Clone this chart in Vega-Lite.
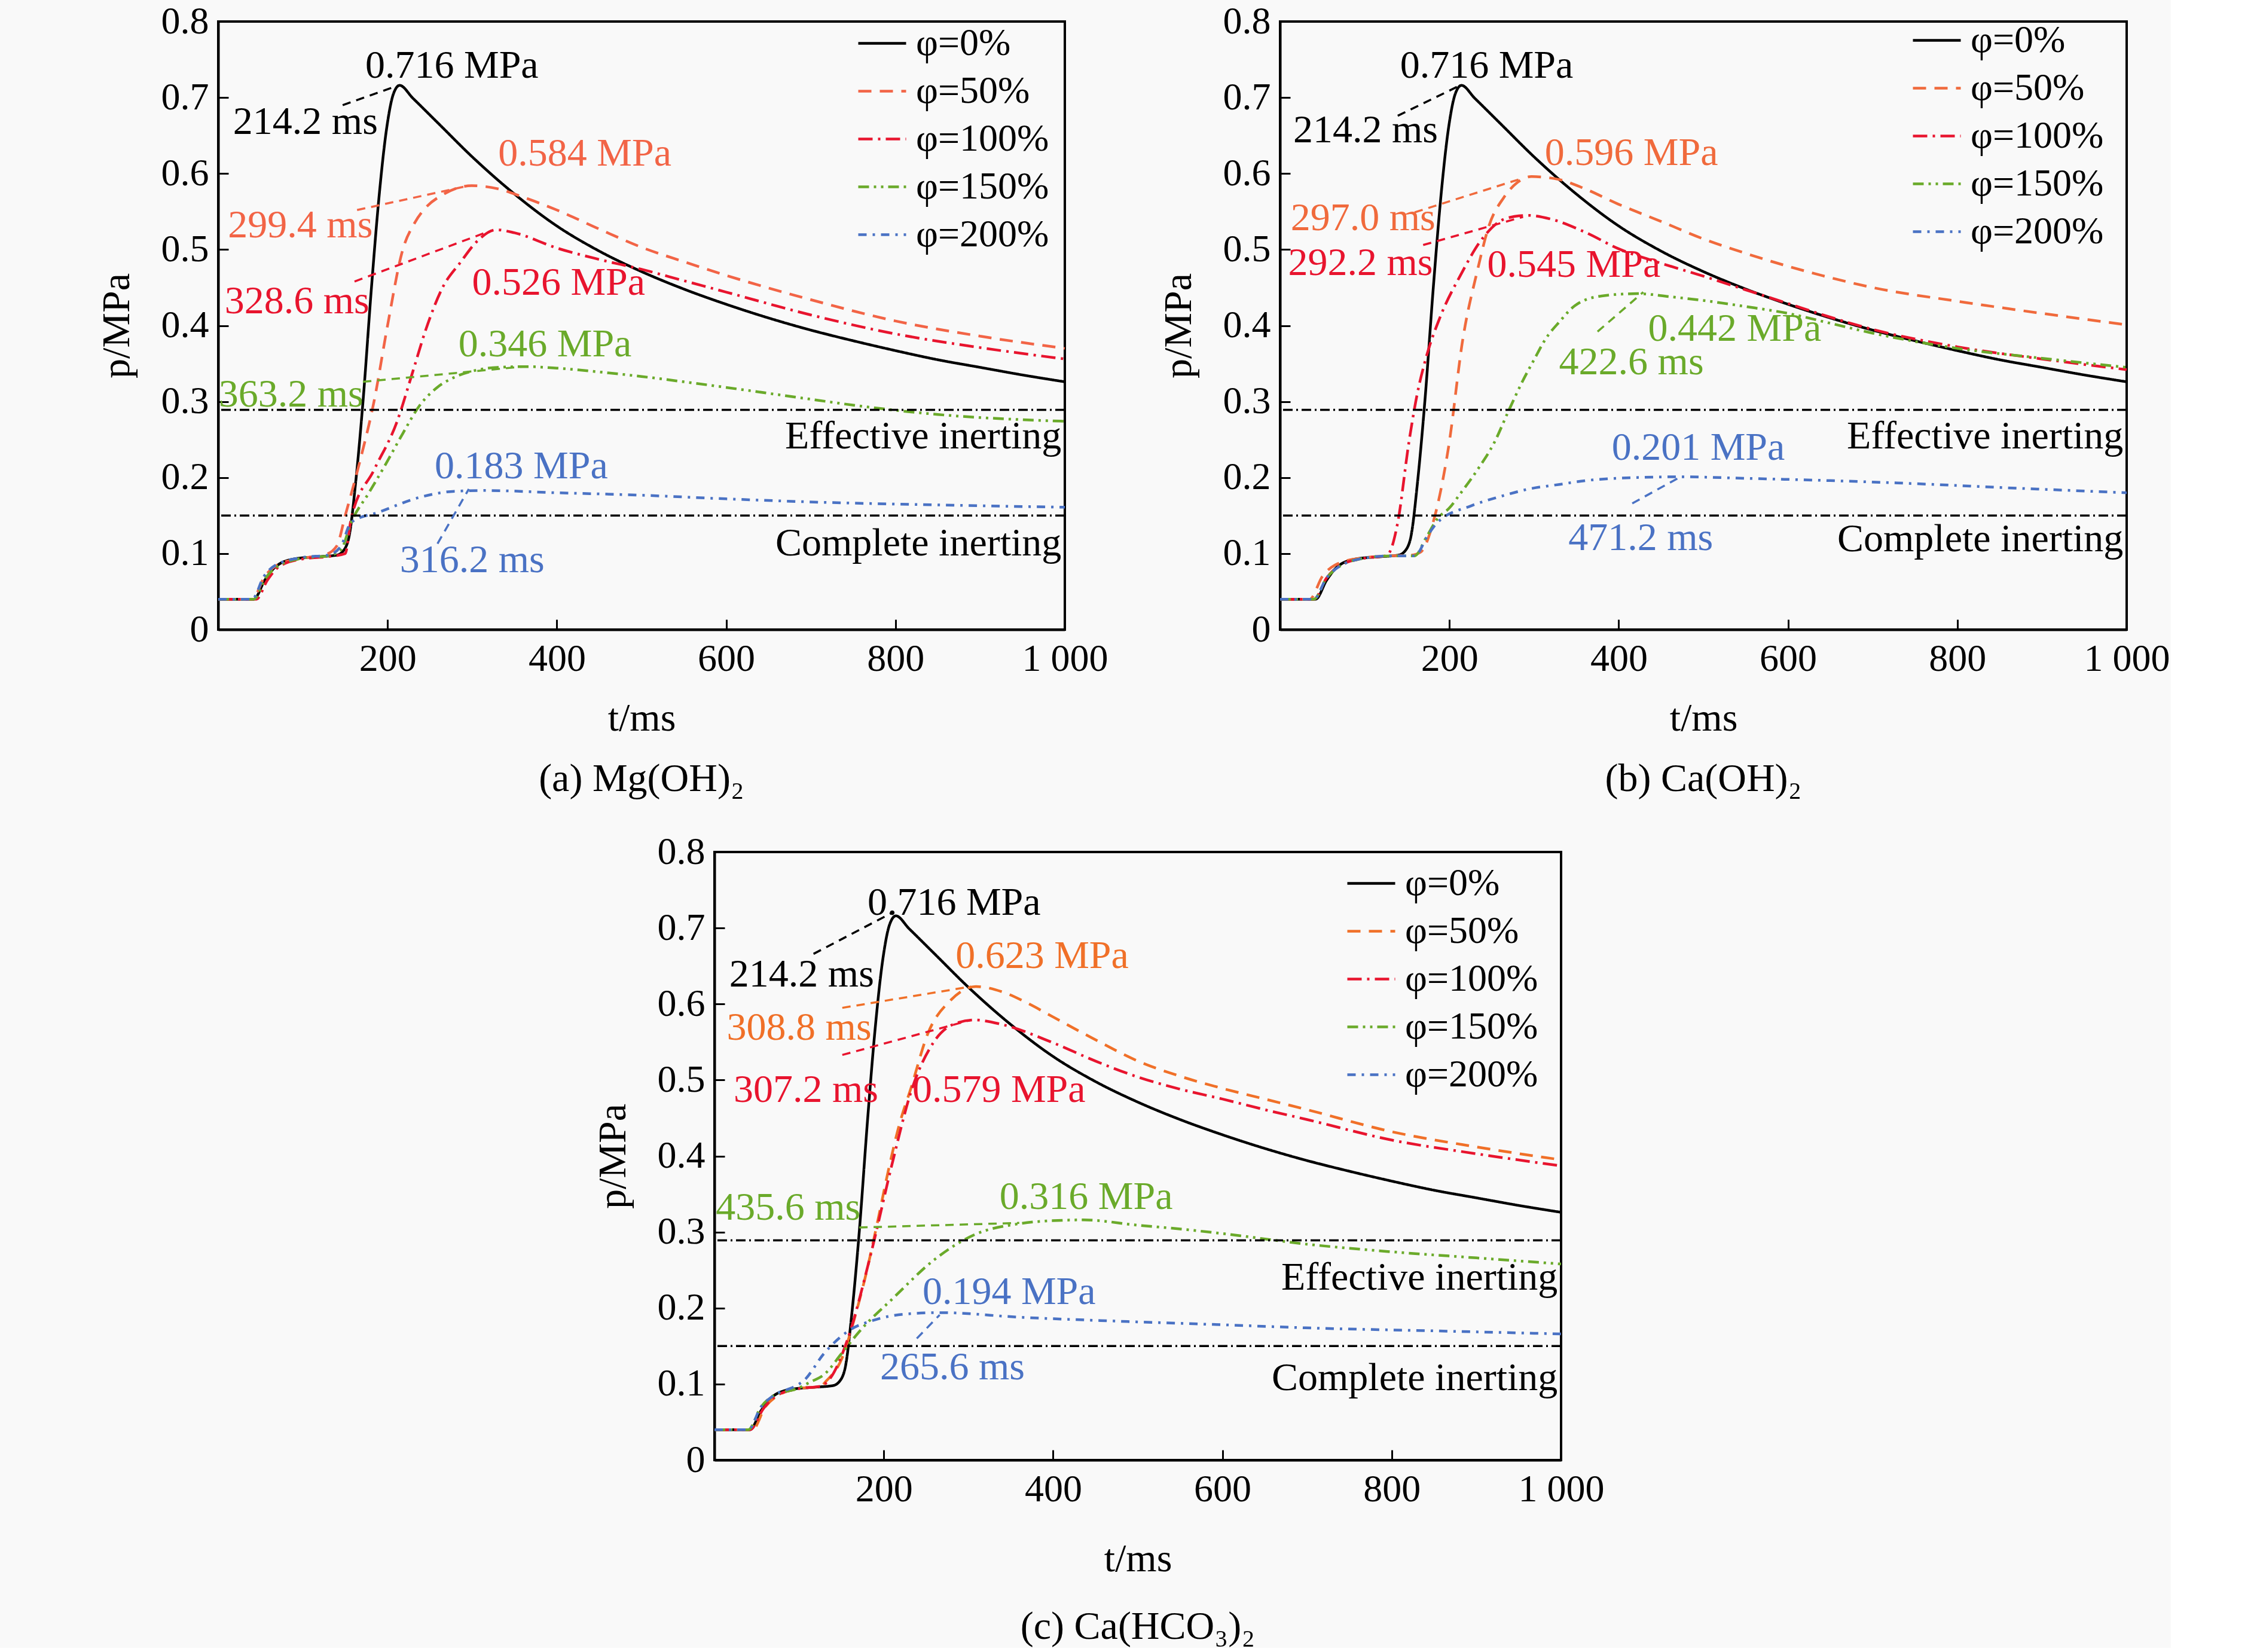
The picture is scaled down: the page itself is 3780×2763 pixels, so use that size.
{
"$schema": "https://vega.github.io/schema/vega-lite/v6.json",
"background": "#f9f9f9",
"padding": {"left": 160, "top": 2, "right": 0, "bottom": 0},
"config": {
 "font": "Liberation Serif",
 "view": {"stroke": "black", "strokeWidth": 4},
 "axis": {"labelFont": "Liberation Serif", "titleFont": "Liberation Serif", "labelFontSize": 64, "titleFontSize": 66, "titleFontWeight": "normal", "labelColor": "black", "titleColor": "black", "domainColor": "black", "domainWidth": 4, "tickColor": "black", "tickWidth": 3, "tickSize": -17, "grid": false, "labelOverlap": false, "labelFlush": false},
 "axisX": {"labelPadding": 34, "titlePadding": 35},
 "axisY": {"labelPadding": 33, "titlePadding": 40},
 "legend": {"title": null, "labelFont": "Liberation Serif", "labelFontSize": 64, "labelColor": "black", "labelLimit": 500, "symbolType": "stroke", "symbolSize": 6400, "symbolStrokeWidth": 4.5, "labelOffset": 14, "rowPadding": 5, "padding": 0},
 "title": {"font": "Liberation Serif", "fontSize": 66, "fontWeight": "normal", "color": "black", "anchor": "middle"},
 "text": {"font": "Liberation Serif", "fontSize": 66}
},
"datasets": {
 "curves": [
  {"panel":"all","s":"φ=0%","t":0,"p":0.04},{"panel":"all","s":"φ=0%","t":42,"p":0.04},{"panel":"all","s":"φ=0%","t":55,"p":0.065},{"panel":"all","s":"φ=0%","t":68,"p":0.083},{"panel":"all","s":"φ=0%","t":90,"p":0.093},{"panel":"all","s":"φ=0%","t":120,"p":0.096},{"panel":"all","s":"φ=0%","t":140,"p":0.098},{"panel":"all","s":"φ=0%","t":148,"p":0.104},{"panel":"all","s":"φ=0%","t":155,"p":0.125},{"panel":"all","s":"φ=0%","t":162,"p":0.19},{"panel":"all","s":"φ=0%","t":171,"p":0.3},{"panel":"all","s":"φ=0%","t":181,"p":0.45},{"panel":"all","s":"φ=0%","t":190,"p":0.57},{"panel":"all","s":"φ=0%","t":199,"p":0.66},{"panel":"all","s":"φ=0%","t":207,"p":0.705},{"panel":"all","s":"φ=0%","t":214.2,"p":0.716},{"panel":"all","s":"φ=0%","t":230,"p":0.699},{"panel":"all","s":"φ=0%","t":260,"p":0.666},{"panel":"all","s":"φ=0%","t":300,"p":0.622},{"panel":"all","s":"φ=0%","t":350,"p":0.573},{"panel":"all","s":"φ=0%","t":400,"p":0.531},{"panel":"all","s":"φ=0%","t":450,"p":0.498},{"panel":"all","s":"φ=0%","t":500,"p":0.471},{"panel":"all","s":"φ=0%","t":550,"p":0.448},{"panel":"all","s":"φ=0%","t":600,"p":0.428},{"panel":"all","s":"φ=0%","t":650,"p":0.41},{"panel":"all","s":"φ=0%","t":700,"p":0.394},{"panel":"all","s":"φ=0%","t":750,"p":0.38},{"panel":"all","s":"φ=0%","t":800,"p":0.367},{"panel":"all","s":"φ=0%","t":850,"p":0.355},{"panel":"all","s":"φ=0%","t":900,"p":0.345},{"panel":"all","s":"φ=0%","t":950,"p":0.335},{"panel":"all","s":"φ=0%","t":1000,"p":0.326},

  {"panel":"a","s":"φ=50%","t":0,"p":0.04},{"panel":"a","s":"φ=50%","t":40,"p":0.04},{"panel":"a","s":"φ=50%","t":55,"p":0.07},{"panel":"a","s":"φ=50%","t":70,"p":0.085},{"panel":"a","s":"φ=50%","t":100,"p":0.094},{"panel":"a","s":"φ=50%","t":125,"p":0.098},{"panel":"a","s":"φ=50%","t":140,"p":0.11},{"panel":"a","s":"φ=50%","t":150,"p":0.15},{"panel":"a","s":"φ=50%","t":167,"p":0.22},{"panel":"a","s":"φ=50%","t":184,"p":0.3},{"panel":"a","s":"φ=50%","t":200,"p":0.4},{"panel":"a","s":"φ=50%","t":218,"p":0.5},{"panel":"a","s":"φ=50%","t":232,"p":0.535},{"panel":"a","s":"φ=50%","t":245,"p":0.555},{"panel":"a","s":"φ=50%","t":265,"p":0.572},{"panel":"a","s":"φ=50%","t":280,"p":0.58},{"panel":"a","s":"φ=50%","t":299.4,"p":0.584},{"panel":"a","s":"φ=50%","t":330,"p":0.58},{"panel":"a","s":"φ=50%","t":360,"p":0.569},{"panel":"a","s":"φ=50%","t":400,"p":0.552},{"panel":"a","s":"φ=50%","t":450,"p":0.527},{"panel":"a","s":"φ=50%","t":500,"p":0.503},{"panel":"a","s":"φ=50%","t":550,"p":0.484},{"panel":"a","s":"φ=50%","t":600,"p":0.466},{"panel":"a","s":"φ=50%","t":700,"p":0.434},{"panel":"a","s":"φ=50%","t":800,"p":0.406},{"panel":"a","s":"φ=50%","t":900,"p":0.386},{"panel":"a","s":"φ=50%","t":1000,"p":0.37},

  {"panel":"a","s":"φ=100%","t":0,"p":0.04},{"panel":"a","s":"φ=100%","t":45,"p":0.04},{"panel":"a","s":"φ=100%","t":58,"p":0.065},{"panel":"a","s":"φ=100%","t":72,"p":0.083},{"panel":"a","s":"φ=100%","t":100,"p":0.093},{"panel":"a","s":"φ=100%","t":130,"p":0.096},{"panel":"a","s":"φ=100%","t":150,"p":0.1},{"panel":"a","s":"φ=100%","t":157,"p":0.146},{"panel":"a","s":"φ=100%","t":184,"p":0.21},{"panel":"a","s":"φ=100%","t":211,"p":0.273},{"panel":"a","s":"φ=100%","t":230,"p":0.34},{"panel":"a","s":"φ=100%","t":245,"p":0.394},{"panel":"a","s":"φ=100%","t":265,"p":0.45},{"panel":"a","s":"φ=100%","t":286,"p":0.483},{"panel":"a","s":"φ=100%","t":305,"p":0.51},{"panel":"a","s":"φ=100%","t":328.6,"p":0.526},{"panel":"a","s":"φ=100%","t":350,"p":0.522},{"panel":"a","s":"φ=100%","t":400,"p":0.502},{"panel":"a","s":"φ=100%","t":450,"p":0.487},{"panel":"a","s":"φ=100%","t":500,"p":0.474},{"panel":"a","s":"φ=100%","t":550,"p":0.459},{"panel":"a","s":"φ=100%","t":600,"p":0.444},{"panel":"a","s":"φ=100%","t":700,"p":0.414},{"panel":"a","s":"φ=100%","t":800,"p":0.389},{"panel":"a","s":"φ=100%","t":900,"p":0.371},{"panel":"a","s":"φ=100%","t":1000,"p":0.356},

  {"panel":"a","s":"φ=150%","t":0,"p":0.04},{"panel":"a","s":"φ=150%","t":42,"p":0.04},{"panel":"a","s":"φ=150%","t":56,"p":0.068},{"panel":"a","s":"φ=150%","t":70,"p":0.083},{"panel":"a","s":"φ=150%","t":100,"p":0.094},{"panel":"a","s":"φ=150%","t":130,"p":0.097},{"panel":"a","s":"φ=150%","t":145,"p":0.105},{"panel":"a","s":"φ=150%","t":157,"p":0.141},{"panel":"a","s":"φ=150%","t":178,"p":0.18},{"panel":"a","s":"φ=150%","t":198,"p":0.218},{"panel":"a","s":"φ=150%","t":218,"p":0.258},{"panel":"a","s":"φ=150%","t":238,"p":0.295},{"panel":"a","s":"φ=150%","t":258,"p":0.318},{"panel":"a","s":"φ=150%","t":279,"p":0.332},{"panel":"a","s":"φ=150%","t":300,"p":0.34},{"panel":"a","s":"φ=150%","t":330,"p":0.345},{"panel":"a","s":"φ=150%","t":363.2,"p":0.346},{"panel":"a","s":"φ=150%","t":400,"p":0.344},{"panel":"a","s":"φ=150%","t":450,"p":0.339},{"panel":"a","s":"φ=150%","t":500,"p":0.333},{"panel":"a","s":"φ=150%","t":550,"p":0.326},{"panel":"a","s":"φ=150%","t":630,"p":0.314},{"panel":"a","s":"φ=150%","t":700,"p":0.303},{"panel":"a","s":"φ=150%","t":766,"p":0.293},{"panel":"a","s":"φ=150%","t":850,"p":0.283},{"panel":"a","s":"φ=150%","t":1000,"p":0.274},

  {"panel":"a","s":"φ=200%","t":0,"p":0.04},{"panel":"a","s":"φ=200%","t":40,"p":0.04},{"panel":"a","s":"φ=200%","t":54,"p":0.07},{"panel":"a","s":"φ=200%","t":68,"p":0.085},{"panel":"a","s":"φ=200%","t":100,"p":0.095},{"panel":"a","s":"φ=200%","t":130,"p":0.098},{"panel":"a","s":"φ=200%","t":145,"p":0.11},{"panel":"a","s":"φ=200%","t":157,"p":0.141},{"panel":"a","s":"φ=200%","t":191,"p":0.155},{"panel":"a","s":"φ=200%","t":238,"p":0.174},{"panel":"a","s":"φ=200%","t":279,"p":0.182},{"panel":"a","s":"φ=200%","t":316.2,"p":0.183},{"panel":"a","s":"φ=200%","t":400,"p":0.18},{"panel":"a","s":"φ=200%","t":495,"p":0.177},{"panel":"a","s":"φ=200%","t":600,"p":0.172},{"panel":"a","s":"φ=200%","t":698,"p":0.168},{"panel":"a","s":"φ=200%","t":850,"p":0.164},{"panel":"a","s":"φ=200%","t":1000,"p":0.161},

  {"panel":"b","s":"φ=50%","t":0,"p":0.04},{"panel":"b","s":"φ=50%","t":35,"p":0.04},{"panel":"b","s":"φ=50%","t":50,"p":0.07},{"panel":"b","s":"φ=50%","t":65,"p":0.085},{"panel":"b","s":"φ=50%","t":95,"p":0.094},{"panel":"b","s":"φ=50%","t":130,"p":0.097},{"panel":"b","s":"φ=50%","t":155,"p":0.098},{"panel":"b","s":"φ=50%","t":166,"p":0.102},{"panel":"b","s":"φ=50%","t":182,"p":0.146},{"panel":"b","s":"φ=50%","t":199,"p":0.24},{"panel":"b","s":"φ=50%","t":216,"p":0.383},{"panel":"b","s":"φ=50%","t":233,"p":0.472},{"panel":"b","s":"φ=50%","t":247,"p":0.532},{"panel":"b","s":"φ=50%","t":264,"p":0.568},{"panel":"b","s":"φ=50%","t":280,"p":0.588},{"panel":"b","s":"φ=50%","t":297,"p":0.596},{"panel":"b","s":"φ=50%","t":330,"p":0.592},{"panel":"b","s":"φ=50%","t":360,"p":0.58},{"panel":"b","s":"φ=50%","t":399,"p":0.56},{"panel":"b","s":"φ=50%","t":450,"p":0.537},{"panel":"b","s":"φ=50%","t":500,"p":0.514},{"panel":"b","s":"φ=50%","t":550,"p":0.495},{"panel":"b","s":"φ=50%","t":600,"p":0.478},{"panel":"b","s":"φ=50%","t":650,"p":0.463},{"panel":"b","s":"φ=50%","t":700,"p":0.45},{"panel":"b","s":"φ=50%","t":800,"p":0.432},{"panel":"b","s":"φ=50%","t":900,"p":0.416},{"panel":"b","s":"φ=50%","t":1000,"p":0.401},

  {"panel":"b","s":"φ=100%","t":0,"p":0.04},{"panel":"b","s":"φ=100%","t":40,"p":0.04},{"panel":"b","s":"φ=100%","t":55,"p":0.068},{"panel":"b","s":"φ=100%","t":70,"p":0.084},{"panel":"b","s":"φ=100%","t":100,"p":0.094},{"panel":"b","s":"φ=100%","t":125,"p":0.097},{"panel":"b","s":"φ=100%","t":130,"p":0.103},{"panel":"b","s":"φ=100%","t":139,"p":0.141},{"panel":"b","s":"φ=100%","t":152,"p":0.245},{"panel":"b","s":"φ=100%","t":162,"p":0.31},{"panel":"b","s":"φ=100%","t":172,"p":0.356},{"panel":"b","s":"φ=100%","t":189,"p":0.411},{"panel":"b","s":"φ=100%","t":213,"p":0.466},{"panel":"b","s":"φ=100%","t":240,"p":0.516},{"panel":"b","s":"φ=100%","t":267,"p":0.541},{"panel":"b","s":"φ=100%","t":292.2,"p":0.545},{"panel":"b","s":"φ=100%","t":320,"p":0.54},{"panel":"b","s":"φ=100%","t":360,"p":0.523},{"panel":"b","s":"φ=100%","t":400,"p":0.501},{"panel":"b","s":"φ=100%","t":450,"p":0.482},{"panel":"b","s":"φ=100%","t":500,"p":0.465},{"panel":"b","s":"φ=100%","t":550,"p":0.447},{"panel":"b","s":"φ=100%","t":600,"p":0.429},{"panel":"b","s":"φ=100%","t":650,"p":0.411},{"panel":"b","s":"φ=100%","t":700,"p":0.395},{"panel":"b","s":"φ=100%","t":800,"p":0.372},{"panel":"b","s":"φ=100%","t":900,"p":0.356},{"panel":"b","s":"φ=100%","t":1000,"p":0.342},

  {"panel":"b","s":"φ=150%","t":0,"p":0.04},{"panel":"b","s":"φ=150%","t":40,"p":0.04},{"panel":"b","s":"φ=150%","t":55,"p":0.068},{"panel":"b","s":"φ=150%","t":70,"p":0.083},{"panel":"b","s":"φ=150%","t":100,"p":0.094},{"panel":"b","s":"φ=150%","t":130,"p":0.097},{"panel":"b","s":"φ=150%","t":159,"p":0.097},{"panel":"b","s":"φ=150%","t":172,"p":0.12},{"panel":"b","s":"φ=150%","t":186,"p":0.146},{"panel":"b","s":"φ=150%","t":200,"p":0.16},{"panel":"b","s":"φ=150%","t":213,"p":0.179},{"panel":"b","s":"φ=150%","t":233,"p":0.21},{"panel":"b","s":"φ=150%","t":253,"p":0.246},{"panel":"b","s":"φ=150%","t":270,"p":0.288},{"panel":"b","s":"φ=150%","t":287,"p":0.328},{"panel":"b","s":"φ=150%","t":300,"p":0.355},{"panel":"b","s":"φ=150%","t":314,"p":0.383},{"panel":"b","s":"φ=150%","t":330,"p":0.405},{"panel":"b","s":"φ=150%","t":348,"p":0.426},{"panel":"b","s":"φ=150%","t":380,"p":0.439},{"panel":"b","s":"φ=150%","t":422.6,"p":0.442},{"panel":"b","s":"φ=150%","t":460,"p":0.438},{"panel":"b","s":"φ=150%","t":500,"p":0.433},{"panel":"b","s":"φ=150%","t":550,"p":0.425},{"panel":"b","s":"φ=150%","t":600,"p":0.416},{"panel":"b","s":"φ=150%","t":650,"p":0.403},{"panel":"b","s":"φ=150%","t":700,"p":0.39},{"panel":"b","s":"φ=150%","t":800,"p":0.37},{"panel":"b","s":"φ=150%","t":900,"p":0.357},{"panel":"b","s":"φ=150%","t":1000,"p":0.345},

  {"panel":"b","s":"φ=200%","t":0,"p":0.04},{"panel":"b","s":"φ=200%","t":40,"p":0.04},{"panel":"b","s":"φ=200%","t":55,"p":0.068},{"panel":"b","s":"φ=200%","t":70,"p":0.083},{"panel":"b","s":"φ=200%","t":100,"p":0.094},{"panel":"b","s":"φ=200%","t":130,"p":0.097},{"panel":"b","s":"φ=200%","t":159,"p":0.097},{"panel":"b","s":"φ=200%","t":175,"p":0.125},{"panel":"b","s":"φ=200%","t":186,"p":0.141},{"panel":"b","s":"φ=200%","t":226,"p":0.163},{"panel":"b","s":"φ=200%","t":260,"p":0.175},{"panel":"b","s":"φ=200%","t":294,"p":0.185},{"panel":"b","s":"φ=200%","t":330,"p":0.191},{"panel":"b","s":"φ=200%","t":361,"p":0.196},{"panel":"b","s":"φ=200%","t":420,"p":0.2},{"panel":"b","s":"φ=200%","t":471.2,"p":0.201},{"panel":"b","s":"φ=200%","t":550,"p":0.199},{"panel":"b","s":"φ=200%","t":650,"p":0.196},{"panel":"b","s":"φ=200%","t":750,"p":0.192},{"panel":"b","s":"φ=200%","t":850,"p":0.187},{"panel":"b","s":"φ=200%","t":1000,"p":0.18},

  {"panel":"c","s":"φ=50%","t":0,"p":0.04},{"panel":"c","s":"φ=50%","t":45,"p":0.04},{"panel":"c","s":"φ=50%","t":60,"p":0.07},{"panel":"c","s":"φ=50%","t":75,"p":0.085},{"panel":"c","s":"φ=50%","t":100,"p":0.094},{"panel":"c","s":"φ=50%","t":125,"p":0.097},{"panel":"c","s":"φ=50%","t":132,"p":0.104},{"panel":"c","s":"φ=50%","t":151,"p":0.135},{"panel":"c","s":"φ=50%","t":165,"p":0.185},{"panel":"c","s":"φ=50%","t":178,"p":0.24},{"panel":"c","s":"φ=50%","t":192,"p":0.31},{"panel":"c","s":"φ=50%","t":205,"p":0.379},{"panel":"c","s":"φ=50%","t":218,"p":0.44},{"panel":"c","s":"φ=50%","t":232,"p":0.489},{"panel":"c","s":"φ=50%","t":252,"p":0.561},{"panel":"c","s":"φ=50%","t":279,"p":0.605},{"panel":"c","s":"φ=50%","t":308.8,"p":0.623},{"panel":"c","s":"φ=50%","t":340,"p":0.616},{"panel":"c","s":"φ=50%","t":370,"p":0.601},{"panel":"c","s":"φ=50%","t":400,"p":0.583},{"panel":"c","s":"φ=50%","t":450,"p":0.553},{"panel":"c","s":"φ=50%","t":500,"p":0.525},{"panel":"c","s":"φ=50%","t":550,"p":0.505},{"panel":"c","s":"φ=50%","t":600,"p":0.489},{"panel":"c","s":"φ=50%","t":650,"p":0.475},{"panel":"c","s":"φ=50%","t":700,"p":0.461},{"panel":"c","s":"φ=50%","t":800,"p":0.432},{"panel":"c","s":"φ=50%","t":900,"p":0.412},{"panel":"c","s":"φ=50%","t":1000,"p":0.395},

  {"panel":"c","s":"φ=100%","t":0,"p":0.04},{"panel":"c","s":"φ=100%","t":42,"p":0.04},{"panel":"c","s":"φ=100%","t":58,"p":0.068},{"panel":"c","s":"φ=100%","t":72,"p":0.084},{"panel":"c","s":"φ=100%","t":100,"p":0.094},{"panel":"c","s":"φ=100%","t":125,"p":0.097},{"panel":"c","s":"φ=100%","t":137,"p":0.108},{"panel":"c","s":"φ=100%","t":157,"p":0.158},{"panel":"c","s":"φ=100%","t":184,"p":0.268},{"panel":"c","s":"φ=100%","t":211,"p":0.395},{"panel":"c","s":"φ=100%","t":232,"p":0.484},{"panel":"c","s":"φ=100%","t":259,"p":0.55},{"panel":"c","s":"φ=100%","t":286,"p":0.575},{"panel":"c","s":"φ=100%","t":307.2,"p":0.579},{"panel":"c","s":"φ=100%","t":340,"p":0.573},{"panel":"c","s":"φ=100%","t":400,"p":0.549},{"panel":"c","s":"φ=100%","t":450,"p":0.525},{"panel":"c","s":"φ=100%","t":500,"p":0.504},{"panel":"c","s":"φ=100%","t":550,"p":0.488},{"panel":"c","s":"φ=100%","t":600,"p":0.475},{"panel":"c","s":"φ=100%","t":650,"p":0.461},{"panel":"c","s":"φ=100%","t":700,"p":0.448},{"panel":"c","s":"φ=100%","t":800,"p":0.421},{"panel":"c","s":"φ=100%","t":900,"p":0.403},{"panel":"c","s":"φ=100%","t":1000,"p":0.387},

  {"panel":"c","s":"φ=150%","t":0,"p":0.04},{"panel":"c","s":"φ=150%","t":40,"p":0.04},{"panel":"c","s":"φ=150%","t":55,"p":0.07},{"panel":"c","s":"φ=150%","t":70,"p":0.085},{"panel":"c","s":"φ=150%","t":100,"p":0.095},{"panel":"c","s":"φ=150%","t":112,"p":0.102},{"panel":"c","s":"φ=150%","t":130,"p":0.113},{"panel":"c","s":"φ=150%","t":150,"p":0.14},{"panel":"c","s":"φ=150%","t":171,"p":0.169},{"panel":"c","s":"φ=150%","t":211,"p":0.213},{"panel":"c","s":"φ=150%","t":259,"p":0.263},{"panel":"c","s":"φ=150%","t":306,"p":0.296},{"panel":"c","s":"φ=150%","t":360,"p":0.311},{"panel":"c","s":"φ=150%","t":400,"p":0.315},{"panel":"c","s":"φ=150%","t":435.6,"p":0.316},{"panel":"c","s":"φ=150%","t":500,"p":0.309},{"panel":"c","s":"φ=150%","t":550,"p":0.304},{"panel":"c","s":"φ=150%","t":600,"p":0.298},{"panel":"c","s":"φ=150%","t":700,"p":0.284},{"panel":"c","s":"φ=150%","t":800,"p":0.274},{"panel":"c","s":"φ=150%","t":900,"p":0.266},{"panel":"c","s":"φ=150%","t":1000,"p":0.258},

  {"panel":"c","s":"φ=200%","t":0,"p":0.04},{"panel":"c","s":"φ=200%","t":40,"p":0.04},{"panel":"c","s":"φ=200%","t":55,"p":0.07},{"panel":"c","s":"φ=200%","t":70,"p":0.085},{"panel":"c","s":"φ=200%","t":95,"p":0.097},{"panel":"c","s":"φ=200%","t":105,"p":0.104},{"panel":"c","s":"φ=200%","t":130,"p":0.141},{"panel":"c","s":"φ=200%","t":157,"p":0.169},{"panel":"c","s":"φ=200%","t":191,"p":0.185},{"panel":"c","s":"φ=200%","t":225,"p":0.192},{"panel":"c","s":"φ=200%","t":265.6,"p":0.194},{"panel":"c","s":"φ=200%","t":360,"p":0.188},{"panel":"c","s":"φ=200%","t":495,"p":0.182},{"panel":"c","s":"φ=200%","t":600,"p":0.178},{"panel":"c","s":"φ=200%","t":698,"p":0.174},{"panel":"c","s":"φ=200%","t":850,"p":0.17},{"panel":"c","s":"φ=200%","t":1000,"p":0.166}
 ],
 "labels": [
  {"panel":"a","s":"φ=0%","label":"0.716 MPa","t":276,"p":0.742},
  {"panel":"a","s":"φ=0%","label":"214.2 ms","t":103,"p":0.668},
  {"panel":"a","s":"φ=50%","label":"0.584 MPa","t":433,"p":0.626},
  {"panel":"a","s":"φ=50%","label":"299.4 ms","t":97,"p":0.532},
  {"panel":"a","s":"φ=100%","label":"328.6 ms","t":93,"p":0.432},
  {"panel":"a","s":"φ=100%","label":"0.526 MPa","t":402,"p":0.456},
  {"panel":"a","s":"φ=150%","label":"0.346 MPa","t":386,"p":0.375},
  {"panel":"a","s":"φ=150%","label":"363.2 ms","t":86,"p":0.309},
  {"panel":"a","s":"φ=200%","label":"0.183 MPa","t":358,"p":0.215},
  {"panel":"a","s":"φ=200%","label":"316.2 ms","t":300,"p":0.091},
  {"panel":"b","s":"φ=0%","label":"0.716 MPa","t":244,"p":0.742},
  {"panel":"b","s":"φ=0%","label":"214.2 ms","t":101,"p":0.657},
  {"panel":"b","s":"φ=50%","label":"0.596 MPa","t":415,"p":0.627},
  {"panel":"b","s":"φ=50%","label":"297.0 ms","t":98,"p":0.541},
  {"panel":"b","s":"φ=100%","label":"292.2 ms","t":95,"p":0.482},
  {"panel":"b","s":"φ=100%","label":"0.545 MPa","t":347,"p":0.48},
  {"panel":"b","s":"φ=150%","label":"0.442 MPa","t":537,"p":0.396},
  {"panel":"b","s":"φ=150%","label":"422.6 ms","t":415,"p":0.352},
  {"panel":"b","s":"φ=200%","label":"0.201 MPa","t":494,"p":0.239},
  {"panel":"b","s":"φ=200%","label":"471.2 ms","t":426,"p":0.12},
  {"panel":"c","s":"φ=0%","label":"0.716 MPa","t":283,"p":0.733},
  {"panel":"c","s":"φ=0%","label":"214.2 ms","t":103,"p":0.639},
  {"panel":"c","s":"φ=50%","label":"0.623 MPa","t":387,"p":0.663},
  {"panel":"c","s":"φ=50%","label":"308.8 ms","t":100,"p":0.569},
  {"panel":"c","s":"φ=100%","label":"307.2 ms","t":108,"p":0.487},
  {"panel":"c","s":"φ=100%","label":"0.579 MPa","t":336,"p":0.487},
  {"panel":"c","s":"φ=150%","label":"0.316 MPa","t":439,"p":0.346},
  {"panel":"c","s":"φ=150%","label":"435.6 ms","t":87,"p":0.332},
  {"panel":"c","s":"φ=200%","label":"0.194 MPa","t":348,"p":0.221},
  {"panel":"c","s":"φ=200%","label":"265.6 ms","t":281,"p":0.122}
 ],
 "leaders": [
  {"panel":"a","s":"φ=0%","t":147,"p":0.69,"t2":208,"p2":0.714},
  {"panel":"a","s":"φ=50%","t":164,"p":0.552,"t2":296,"p2":0.584},
  {"panel":"a","s":"φ=100%","t":161,"p":0.458,"t2":320,"p2":0.524},
  {"panel":"a","s":"φ=150%","t":171,"p":0.326,"t2":360,"p2":0.346},
  {"panel":"a","s":"φ=200%","t":259,"p":0.113,"t2":296,"p2":0.185},
  {"panel":"b","s":"φ=0%","t":139,"p":0.676,"t2":209,"p2":0.714},
  {"panel":"b","s":"φ=50%","t":159,"p":0.549,"t2":287,"p2":0.594},
  {"panel":"b","s":"φ=100%","t":169,"p":0.506,"t2":287,"p2":0.543},
  {"panel":"b","s":"φ=150%","t":375,"p":0.392,"t2":429,"p2":0.444},
  {"panel":"b","s":"φ=200%","t":416,"p":0.166,"t2":473,"p2":0.201},
  {"panel":"c","s":"φ=0%","t":117,"p":0.666,"t2":208,"p2":0.719},
  {"panel":"c","s":"φ=50%","t":151,"p":0.595,"t2":303,"p2":0.623},
  {"panel":"c","s":"φ=100%","t":151,"p":0.533,"t2":303,"p2":0.579},
  {"panel":"c","s":"φ=150%","t":171,"p":0.306,"t2":360,"p2":0.312},
  {"panel":"c","s":"φ=200%","t":239,"p":0.16,"t2":266,"p2":0.191}
 ],
 "thresholds": [{"p": 0.289}, {"p": 0.15}],
 "notes": [
  {"panel":"a","label":"Effective inerting","t":996,"p":0.254},
  {"panel":"a","label":"Complete inerting","t":996,"p":0.113},
  {"panel":"b","label":"Effective inerting","t":996,"p":0.254},
  {"panel":"b","label":"Complete inerting","t":996,"p":0.119},
  {"panel":"c","label":"Effective inerting","t":996,"p":0.24},
  {"panel":"c","label":"Complete inerting","t":996,"p":0.108}
 ]
},
"resolve": {"scale": {"color": "independent", "strokeDash": "independent"}, "legend": {"color": "independent", "strokeDash": "independent"}},
"spacing": 53,
"vconcat": [
 {
  "resolve": {"scale": {"color": "independent", "strokeDash": "independent"}, "legend": {"color": "independent", "strokeDash": "independent"}},
  "spacing": 81,
  "hconcat": [
   {
    "width": 1416, "height": 1017,
    "title": {"text": "(a) Mg(OH)₂", "orient": "bottom", "offset": 37, "font": "Liberation Serif"},
    "layer": [
     {"data": {"name": "curves"}, "transform": [{"filter": "datum.panel == 'a' || datum.panel == 'all'"}],
      "mark": {"type": "line", "interpolate": "monotone", "strokeWidth": 4.5},
      "encoding": {
       "x": {"field": "t", "type": "quantitative", "scale": {"domain": [0, 1000], "nice": false}, "axis": {"values": [200, 400, 600, 800, 1000], "labelExpr": "datum.value == 1000 ? '1 000' : datum.label", "title": "t/ms", "labelFont": "Liberation Serif", "titleFont": "Liberation Serif"}},
       "y": {"field": "p", "type": "quantitative", "scale": {"domain": [0, 0.8], "nice": false}, "axis": {"values": [0, 0.1, 0.2, 0.3, 0.4, 0.5, 0.6, 0.7, 0.8], "labelExpr": "datum.value == 0 ? '0' : format(datum.value, '.1f')", "title": "p/MPa", "labelFont": "Liberation Serif", "titleFont": "Liberation Serif"}},
       "color": {"field": "s", "type": "nominal", "scale": {"domain": ["φ=0%", "φ=50%", "φ=100%", "φ=150%", "φ=200%"], "range": ["#000000", "#f26446", "#e8142e", "#6aaa2a", "#4a72c4"]}, "legend": {"orient": "none", "legendX": 1068, "legendY": -6, "labelFont": "Liberation Serif"}},
       "strokeDash": {"field": "s", "type": "nominal", "scale": {"domain": ["φ=0%", "φ=50%", "φ=100%", "φ=150%", "φ=200%"], "range": [[1, 0], [22, 14], [24, 9, 4, 9], [18, 8, 4, 8, 4, 8], [14, 10, 4, 10]]}, "legend": {"orient": "none", "legendX": 1068, "legendY": -6, "labelFont": "Liberation Serif"}}
      }},
     {"data": {"name": "thresholds"}, "mark": {"type": "rule", "color": "black", "strokeWidth": 3.5, "strokeDash": [16, 6, 3, 6]}, "encoding": {"y": {"field": "p", "type": "quantitative"}}},
     {"data": {"name": "leaders"}, "transform": [{"filter": "datum.panel == 'a'"}], "mark": {"type": "rule", "strokeWidth": 3.5, "strokeDash": [14, 10]},
      "encoding": {"x": {"field": "t", "type": "quantitative"}, "y": {"field": "p", "type": "quantitative"}, "x2": {"field": "t2"}, "y2": {"field": "p2"}, "color": {"field": "s", "type": "nominal", "legend": null}}},
     {"data": {"name": "labels"}, "transform": [{"filter": "datum.panel == 'a'"}], "mark": {"type": "text", "align": "center", "baseline": "middle", "font": "Liberation Serif"},
      "encoding": {"x": {"field": "t", "type": "quantitative"}, "y": {"field": "p", "type": "quantitative"}, "text": {"field": "label"}, "color": {"field": "s", "type": "nominal", "legend": null}}},
     {"data": {"name": "notes"}, "transform": [{"filter": "datum.panel == 'a'"}], "mark": {"type": "text", "align": "right", "baseline": "middle", "color": "black", "font": "Liberation Serif"},
      "encoding": {"x": {"field": "t", "type": "quantitative"}, "y": {"field": "p", "type": "quantitative"}, "text": {"field": "label"}}}
    ]
   },
   {
    "width": 1416, "height": 1017,
    "title": {"text": "(b) Ca(OH)₂", "orient": "bottom", "offset": 37, "font": "Liberation Serif"},
    "layer": [
     {"data": {"name": "curves"}, "transform": [{"filter": "datum.panel == 'b' || datum.panel == 'all'"}],
      "mark": {"type": "line", "interpolate": "monotone", "strokeWidth": 4.5},
      "encoding": {
       "x": {"field": "t", "type": "quantitative", "scale": {"domain": [0, 1000], "nice": false}, "axis": {"values": [200, 400, 600, 800, 1000], "labelExpr": "datum.value == 1000 ? '1 000' : datum.label", "title": "t/ms", "labelFont": "Liberation Serif", "titleFont": "Liberation Serif"}},
       "y": {"field": "p", "type": "quantitative", "scale": {"domain": [0, 0.8], "nice": false}, "axis": {"values": [0, 0.1, 0.2, 0.3, 0.4, 0.5, 0.6, 0.7, 0.8], "labelExpr": "datum.value == 0 ? '0' : format(datum.value, '.1f')", "title": "p/MPa", "labelFont": "Liberation Serif", "titleFont": "Liberation Serif"}},
       "color": {"field": "s", "type": "nominal", "scale": {"domain": ["φ=0%", "φ=50%", "φ=100%", "φ=150%", "φ=200%"], "range": ["#000000", "#f06a3c", "#e8142e", "#6aaa2a", "#4a72c4"]}, "legend": {"orient": "none", "legendX": 1056, "legendY": -11, "labelFont": "Liberation Serif"}},
       "strokeDash": {"field": "s", "type": "nominal", "scale": {"domain": ["φ=0%", "φ=50%", "φ=100%", "φ=150%", "φ=200%"], "range": [[1, 0], [22, 14], [24, 9, 4, 9], [18, 8, 4, 8, 4, 8], [14, 10, 4, 10]]}, "legend": {"orient": "none", "legendX": 1056, "legendY": -11, "labelFont": "Liberation Serif"}}
      }},
     {"data": {"name": "thresholds"}, "mark": {"type": "rule", "color": "black", "strokeWidth": 3.5, "strokeDash": [16, 6, 3, 6]}, "encoding": {"y": {"field": "p", "type": "quantitative"}}},
     {"data": {"name": "leaders"}, "transform": [{"filter": "datum.panel == 'b'"}], "mark": {"type": "rule", "strokeWidth": 3.5, "strokeDash": [14, 10]},
      "encoding": {"x": {"field": "t", "type": "quantitative"}, "y": {"field": "p", "type": "quantitative"}, "x2": {"field": "t2"}, "y2": {"field": "p2"}, "color": {"field": "s", "type": "nominal", "legend": null}}},
     {"data": {"name": "labels"}, "transform": [{"filter": "datum.panel == 'b'"}], "mark": {"type": "text", "align": "center", "baseline": "middle", "font": "Liberation Serif"},
      "encoding": {"x": {"field": "t", "type": "quantitative"}, "y": {"field": "p", "type": "quantitative"}, "text": {"field": "label"}, "color": {"field": "s", "type": "nominal", "legend": null}}},
     {"data": {"name": "notes"}, "transform": [{"filter": "datum.panel == 'b'"}], "mark": {"type": "text", "align": "right", "baseline": "middle", "color": "black", "font": "Liberation Serif"},
      "encoding": {"x": {"field": "t", "type": "quantitative"}, "y": {"field": "p", "type": "quantitative"}, "text": {"field": "label"}}}
    ]
   }
  ]
 },
 {
  "resolve": {"scale": {"color": "independent", "strokeDash": "independent"}, "legend": {"color": "independent", "strokeDash": "independent"}},
  "spacing": 0,
  "hconcat": [
   {"width": 625, "height": 1017, "view": {"stroke": null}, "data": {"values": []}, "mark": {"type": "point", "opacity": 0}},
   {
    "width": 1416, "height": 1017,
    "title": {"text": "(c) Ca(HCO₃)₂", "orient": "bottom", "offset": 49, "font": "Liberation Serif"},
    "layer": [
     {"data": {"name": "curves"}, "transform": [{"filter": "datum.panel == 'c' || datum.panel == 'all'"}],
      "mark": {"type": "line", "interpolate": "monotone", "strokeWidth": 4.5},
      "encoding": {
       "x": {"field": "t", "type": "quantitative", "scale": {"domain": [0, 1000], "nice": false}, "axis": {"values": [200, 400, 600, 800, 1000], "labelExpr": "datum.value == 1000 ? '1 000' : datum.label", "title": "t/ms", "titlePadding": 52, "labelFont": "Liberation Serif", "titleFont": "Liberation Serif"}},
       "y": {"field": "p", "type": "quantitative", "scale": {"domain": [0, 0.8], "nice": false}, "axis": {"values": [0, 0.1, 0.2, 0.3, 0.4, 0.5, 0.6, 0.7, 0.8], "labelExpr": "datum.value == 0 ? '0' : format(datum.value, '.1f')", "title": "p/MPa", "labelFont": "Liberation Serif", "titleFont": "Liberation Serif"}},
       "color": {"field": "s", "type": "nominal", "scale": {"domain": ["φ=0%", "φ=50%", "φ=100%", "φ=150%", "φ=200%"], "range": ["#000000", "#f07028", "#e8142e", "#6aaa2a", "#4a72c4"]}, "legend": {"orient": "none", "legendX": 1056, "legendY": 10, "labelFont": "Liberation Serif"}},
       "strokeDash": {"field": "s", "type": "nominal", "scale": {"domain": ["φ=0%", "φ=50%", "φ=100%", "φ=150%", "φ=200%"], "range": [[1, 0], [22, 14], [24, 9, 4, 9], [18, 8, 4, 8, 4, 8], [14, 10, 4, 10]]}, "legend": {"orient": "none", "legendX": 1056, "legendY": 10, "labelFont": "Liberation Serif"}}
      }},
     {"data": {"name": "thresholds"}, "mark": {"type": "rule", "color": "black", "strokeWidth": 3.5, "strokeDash": [16, 6, 3, 6]}, "encoding": {"y": {"field": "p", "type": "quantitative"}}},
     {"data": {"name": "leaders"}, "transform": [{"filter": "datum.panel == 'c'"}], "mark": {"type": "rule", "strokeWidth": 3.5, "strokeDash": [14, 10]},
      "encoding": {"x": {"field": "t", "type": "quantitative"}, "y": {"field": "p", "type": "quantitative"}, "x2": {"field": "t2"}, "y2": {"field": "p2"}, "color": {"field": "s", "type": "nominal", "legend": null}}},
     {"data": {"name": "labels"}, "transform": [{"filter": "datum.panel == 'c'"}], "mark": {"type": "text", "align": "center", "baseline": "middle", "font": "Liberation Serif"},
      "encoding": {"x": {"field": "t", "type": "quantitative"}, "y": {"field": "p", "type": "quantitative"}, "text": {"field": "label"}, "color": {"field": "s", "type": "nominal", "legend": null}}},
     {"data": {"name": "notes"}, "transform": [{"filter": "datum.panel == 'c'"}], "mark": {"type": "text", "align": "right", "baseline": "middle", "color": "black", "font": "Liberation Serif"},
      "encoding": {"x": {"field": "t", "type": "quantitative"}, "y": {"field": "p", "type": "quantitative"}, "text": {"field": "label"}}}
    ]
   }
  ]
 }
]
}
